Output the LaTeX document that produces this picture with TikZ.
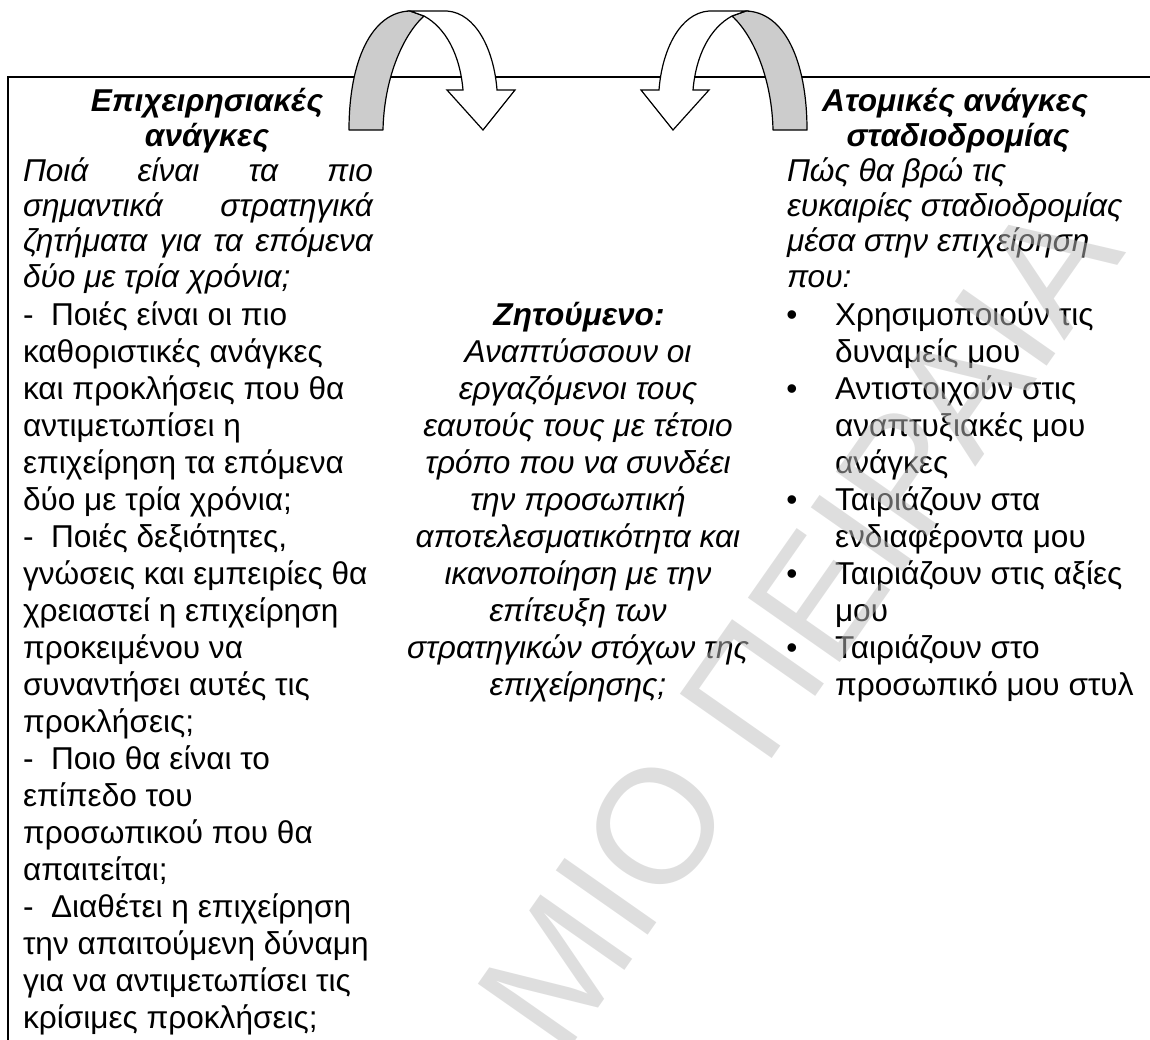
\documentclass[tikz,border=0pt]{standalone}
\usepackage{fontspec}
\setmainfont{Liberation Sans}
\definecolor{wmgray}{RGB}{190,190,190}
\definecolor{ribbon}{RGB}{204,204,204}
\begin{document}
\begin{tikzpicture}[x=1pt,y=-1pt,
  txt/.style={inner sep=0pt, outer sep=0pt, font=\fontsize{31.6}{36}\selectfont},
  bodyl/.style={txt, anchor=base west},
  bodyc/.style={txt, anchor=base},
  ital/.style={font=\fontsize{31.6}{36}\selectfont\itshape},
  head/.style={txt, anchor=base, font=\fontsize{31.6}{36}\selectfont\bfseries\itshape},
  frame/.style={line width=2pt, line cap=rect},
  back/.style={draw=black, line width=1.2pt, fill=ribbon, line join=round},
  front/.style={draw=black, line width=1.2pt, fill=white, line join=miter},
  wm/.style={inner sep=0pt, outer sep=0pt, text=wmgray, text opacity=0.5,
    font=\fontsize{163}{170}\selectfont}]
\useasboundingbox (0,0) rectangle (1150,1039);
\clip (0,0) rectangle (1150,1039);
\def\yA{111}\def\sA{35.2}
\def\yB{325}\def\sB{37}
% frame
\coordinate (fBL) at (8,1039);
\coordinate (fTL) at (8,77);
\coordinate (fTR) at (1150,77);
\draw[frame] (fBL) -- (fTL) -- (fTR);
% left curved arrow
\draw[back] (349,130) .. controls (349,60) and (372,12) .. (410,11) -- (424,16)
  .. controls (402,36) and (384,80) .. (383,130) -- cycle;
\draw[front] (410,11) -- (447,11) .. controls (476,13) and (494,50) .. (497,90)
  -- (515,90) -- (483,130) -- (447,90) -- (463,90)
  .. controls (460,55) and (446,28) .. (424,16) -- cycle;
% right curved arrow (mirror)
\begin{scope}[xshift=1156pt, xscale=-1]
\draw[back] (349,130) .. controls (349,60) and (372,12) .. (410,11) -- (424,16)
  .. controls (402,36) and (384,80) .. (383,130) -- cycle;
\draw[front] (410,11) -- (447,11) .. controls (476,13) and (494,50) .. (497,90)
  -- (515,90) -- (483,130) -- (447,90) -- (463,90)
  .. controls (460,55) and (446,28) .. (424,16) -- cycle;
\end{scope}
% left column
\node[head] (L1) at (207,{\yA}) {Επιχειρησιακές};
\node[head] (L2) at (207,{\yA+\sA}) {ανάγκες};
\foreach \r/\t in {3/{Ποιά είναι τα πιο}, 4/{σημαντικά στρατηγικά}, 5/{ζητήματα για τα επόμενα}}
  \node[bodyl, ital] (L\r) at (23,{\yA+(\r-1)*\sA}) {\makebox[350pt][s]{\t}};
\node[bodyl, ital] (L6) at (23,{\yA+5*\sA}) {δύο με τρία χρόνια;};
\foreach \r/\t in {
  7/{-\ \ Ποιές είναι οι πιο},
  8/{καθοριστικές ανάγκες},
  9/{και προκλήσεις που θα},
  10/{αντιμετωπίσει η},
  11/{επιχείρηση τα επόμενα},
  12/{δύο με τρία χρόνια;},
  13/{-\ \ Ποιές δεξιότητες,},
  14/{γνώσεις και εμπειρίες θα},
  15/{χρειαστεί η επιχείρηση},
  16/{προκειμένου να},
  17/{συναντήσει αυτές τις},
  18/{προκλήσεις;},
  19/{-\ \ Ποιο θα είναι το},
  20/{επίπεδο του},
  21/{προσωπικού που θα},
  22/{απαιτείται;},
  23/{-\ \ Διαθέτει η επιχείρηση},
  24/{την απαιτούμενη δύναμη},
  25/{για να αντιμετωπίσει τις},
  26/{κρίσιμες προκλήσεις;}}
  \node[bodyl] (L\r) at (23,{\yB+(\r-7)*\sB}) {\t};
% middle column
\node[head] (M7) at (579,{\yB}) {Ζητούμενο:};
\foreach \r/\t in {
  8/{Αναπτύσσουν οι},
  9/{εργαζόμενοι τους},
  10/{εαυτούς τους με τέτοιο},
  11/{τρόπο που να συνδέει},
  12/{την προσωπική},
  13/{αποτελεσματικότητα και},
  14/{ικανοποίηση με την},
  15/{επίτευξη των},
  16/{στρατηγικών στόχων της},
  17/{επιχείρησης;}}
  \node[bodyc, ital] (M\r) at (578,{\yB+(\r-7)*\sB}) {\t};
% right column
\node[head] (R1) at (955,{\yA}) {Ατομικές ανάγκες};
\node[head] (R2) at (958,{\yA+\sA}) {σταδιοδρομίας};
\foreach \r/\t in {
  3/{Πώς θα βρώ τις},
  4/{ευκαιρίες σταδιοδρομίας},
  5/{μέσα στην επιχείρηση},
  6/{που:}}
  \node[bodyl, ital] (R\r) at (787,{\yA+(\r-1)*\sA}) {\t};
\foreach \r/\t in {
  7/{Χρησιμοποιούν τις},
  8/{δυναμείς μου},
  9/{Αντιστοιχούν στις},
  10/{αναπτυξιακές μου},
  11/{ανάγκες},
  12/{Ταιριάζουν στα},
  13/{ενδιαφέροντα μου},
  14/{Ταιριάζουν στις αξίες},
  15/{μου},
  16/{Ταιριάζουν στο},
  17/{προσωπικό μου στυλ}}
  \node[bodyl] (R\r) at (835,{\yB+(\r-7)*\sB}) {\t};
\foreach \r in {7,9,12,14,16}
  \node[bodyc] (B\r) at (792,{\yB+(\r-7)*\sB}) {•};
% watermark
\node[wm, rotate=55, anchor=base west] (wmk) at (562,1059) {ΜΙΟ ΠΕΙΡΑΙΑ};
\end{tikzpicture}
\end{document}
